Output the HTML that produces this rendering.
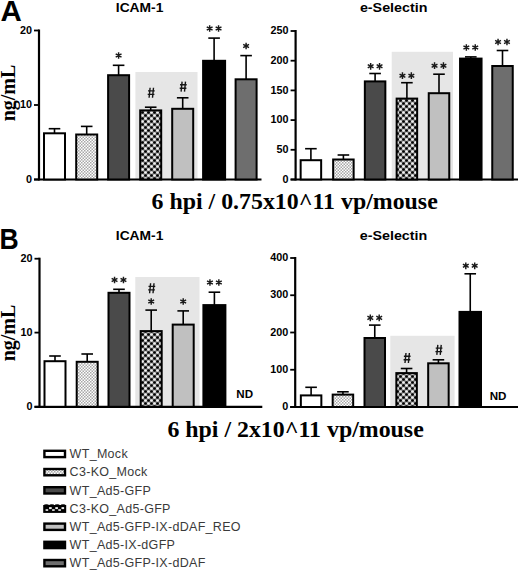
<!DOCTYPE html>
<html><head><meta charset="utf-8"><style>
html,body{margin:0;padding:0;background:#fff;}
body{width:520px;height:572px;overflow:hidden;}
svg{display:block;}
.tk{font-family:"Liberation Sans",sans-serif;font-weight:bold;font-size:10.8px;fill:#000;}
.ti{font-family:"Liberation Sans",sans-serif;font-weight:bold;font-size:13px;fill:#000;}
.sp{stroke:#1a1a1a;stroke-width:1.45;fill:none;}
.hp{stroke:#151515;stroke-width:1.4;fill:none;}
.nd{font-family:"Liberation Sans",sans-serif;font-weight:bold;font-size:11.6px;fill:#000;}
.pl{font-family:"Liberation Sans",sans-serif;font-weight:bold;font-size:29.5px;fill:#000;}
.cap{font-family:"Liberation Serif",serif;font-weight:bold;font-size:23.85px;fill:#000;}
.yl{font-family:"Liberation Serif",serif;font-weight:bold;font-size:20px;fill:#000;}
.lg{font-family:"Liberation Sans",sans-serif;font-size:12.5px;fill:#3a3a3a;letter-spacing:0.3px;}
</style></head><body>
<svg width="520" height="572" viewBox="0 0 520 572">
<defs>
<pattern id="pdots" width="3" height="3" patternUnits="userSpaceOnUse">
<rect width="3" height="3" fill="#fff"/><rect x="0" y="0" width="1.5" height="1.5" fill="#a8a8a8"/><rect x="1.5" y="1.5" width="1.5" height="1.5" fill="#a8a8a8"/>
</pattern>
<pattern id="pcheck" width="6" height="6" patternUnits="userSpaceOnUse">
<rect width="6" height="6" fill="#808080"/><circle cx="1.5" cy="1.5" r="1.35" fill="#000"/><circle cx="4.5" cy="4.5" r="1.35" fill="#000"/><circle cx="4.5" cy="1.5" r="1.35" fill="#f2f2f2"/><circle cx="1.5" cy="4.5" r="1.35" fill="#f2f2f2"/>
</pattern>
</defs>
<rect width="520" height="572" fill="#fff"/>

<text x="0.6" y="21.3" class="pl">A</text>
<text transform="translate(-0.4,249) scale(0.9,1)" class="pl">B</text>
<rect x="135.4" y="72" width="62.099999999999994" height="107.5" fill="#e6e6e6"/>
<line x1="39" y1="29.5" x2="39" y2="180.5" stroke="#000" stroke-width="2.2"/>
<line x1="34" y1="179.5" x2="261.5" y2="179.5" stroke="#000" stroke-width="2.2"/>
<line x1="34" y1="30.5" x2="39" y2="30.5" stroke="#000" stroke-width="1.8"/>
<text x="32" y="33.7" class="tk" text-anchor="end">20</text>
<line x1="34" y1="105" x2="39" y2="105" stroke="#000" stroke-width="1.8"/>
<text x="32" y="108.2" class="tk" text-anchor="end">10</text>
<line x1="34" y1="179.5" x2="39" y2="179.5" stroke="#000" stroke-width="1.8"/>
<text x="32" y="182.7" class="tk" text-anchor="end">0</text>
<line x1="54.50" y1="133.30" x2="54.50" y2="128.70" stroke="#000" stroke-width="1.6"/><line x1="48.70" y1="128.70" x2="60.30" y2="128.70" stroke="#000" stroke-width="1.6"/>
<rect x="44.00" y="133.30" width="21.00" height="46.20" fill="#fff" stroke="#000" stroke-width="2"/>
<line x1="86.70" y1="134.50" x2="86.70" y2="126.40" stroke="#000" stroke-width="1.6"/><line x1="80.90" y1="126.40" x2="92.50" y2="126.40" stroke="#000" stroke-width="1.6"/>
<rect x="76.20" y="134.50" width="21.00" height="45.00" fill="url(#pdots)"/><rect x="76.20" y="134.50" width="21.00" height="45.00" fill="none" stroke="#000" stroke-width="2"/>
<line x1="118.60" y1="75.20" x2="118.60" y2="65.30" stroke="#000" stroke-width="1.6"/><line x1="112.80" y1="65.30" x2="124.40" y2="65.30" stroke="#000" stroke-width="1.6"/>
<rect x="108.10" y="75.20" width="21.00" height="104.30" fill="#4a4a4a" stroke="#000" stroke-width="2"/>
<path d="M118.60,52.15V58.85M115.70,53.83L121.50,57.17M115.70,57.17L121.50,53.83" class="sp"/>
<line x1="150.70" y1="110.40" x2="150.70" y2="107.20" stroke="#000" stroke-width="1.6"/><line x1="144.90" y1="107.20" x2="156.50" y2="107.20" stroke="#000" stroke-width="1.6"/>
<rect x="140.20" y="110.40" width="21.00" height="69.10" fill="url(#pcheck)"/><rect x="140.20" y="110.40" width="21.00" height="69.10" fill="none" stroke="#000" stroke-width="2"/>
<path d="M150.10,87.70L149.10,97.70M153.50,87.70L152.50,97.70M148.00,90.90H154.70M147.70,94.40H154.40" class="hp"/>
<line x1="182.70" y1="108.80" x2="182.70" y2="97.80" stroke="#000" stroke-width="1.6"/><line x1="176.90" y1="97.80" x2="188.50" y2="97.80" stroke="#000" stroke-width="1.6"/>
<rect x="172.20" y="108.80" width="21.00" height="70.70" fill="#c0c0c0" stroke="#000" stroke-width="2"/>
<path d="M182.10,81.60L181.10,91.60M185.50,81.60L184.50,91.60M180.00,84.80H186.70M179.70,88.30H186.40" class="hp"/>
<line x1="214.10" y1="60.80" x2="214.10" y2="38.10" stroke="#000" stroke-width="1.6"/><line x1="208.30" y1="38.10" x2="219.90" y2="38.10" stroke="#000" stroke-width="1.6"/>
<rect x="203.10" y="60.80" width="22.00" height="118.70" fill="#000" stroke="#000" stroke-width="2"/>
<path d="M209.65,25.15V31.85M206.75,26.82L212.55,30.18M206.75,30.18L212.55,26.82" class="sp"/><path d="M218.55,25.15V31.85M215.65,26.82L221.45,30.18M215.65,30.18L221.45,26.82" class="sp"/>
<line x1="246.10" y1="79.30" x2="246.10" y2="55.60" stroke="#000" stroke-width="1.6"/><line x1="240.30" y1="55.60" x2="251.90" y2="55.60" stroke="#000" stroke-width="1.6"/>
<rect x="235.60" y="79.30" width="21.00" height="100.20" fill="#6e6e6e" stroke="#000" stroke-width="2"/>
<path d="M246.10,42.65V49.35M243.20,44.33L249.00,47.67M243.20,47.67L249.00,44.33" class="sp"/>
<text x="139.6" y="12.3" class="ti" text-anchor="middle" textLength="47.6" lengthAdjust="spacingAndGlyphs">ICAM-1</text>
<rect x="391.7" y="51.8" width="61.30000000000001" height="127.7" fill="#e6e6e6"/>
<line x1="295.6" y1="30" x2="295.6" y2="180.5" stroke="#000" stroke-width="2.2"/>
<line x1="290.6" y1="179.5" x2="518" y2="179.5" stroke="#000" stroke-width="2.2"/>
<line x1="290.6" y1="31.0" x2="295.6" y2="31.0" stroke="#000" stroke-width="1.8"/>
<text x="288.6" y="34.2" class="tk" text-anchor="end">250</text>
<line x1="290.6" y1="60.7" x2="295.6" y2="60.7" stroke="#000" stroke-width="1.8"/>
<text x="288.6" y="63.900000000000006" class="tk" text-anchor="end">200</text>
<line x1="290.6" y1="90.4" x2="295.6" y2="90.4" stroke="#000" stroke-width="1.8"/>
<text x="288.6" y="93.60000000000001" class="tk" text-anchor="end">150</text>
<line x1="290.6" y1="120.1" x2="295.6" y2="120.1" stroke="#000" stroke-width="1.8"/>
<text x="288.6" y="123.3" class="tk" text-anchor="end">100</text>
<line x1="290.6" y1="149.8" x2="295.6" y2="149.8" stroke="#000" stroke-width="1.8"/>
<text x="288.6" y="153.0" class="tk" text-anchor="end">50</text>
<line x1="290.6" y1="179.5" x2="295.6" y2="179.5" stroke="#000" stroke-width="1.8"/>
<text x="288.6" y="182.7" class="tk" text-anchor="end">0</text>
<line x1="310.90" y1="160.20" x2="310.90" y2="148.70" stroke="#000" stroke-width="1.6"/><line x1="305.10" y1="148.70" x2="316.70" y2="148.70" stroke="#000" stroke-width="1.6"/>
<rect x="300.65" y="160.20" width="20.50" height="19.30" fill="#fff" stroke="#000" stroke-width="2"/>
<line x1="343.40" y1="159.50" x2="343.40" y2="155.00" stroke="#000" stroke-width="1.6"/><line x1="337.60" y1="155.00" x2="349.20" y2="155.00" stroke="#000" stroke-width="1.6"/>
<rect x="333.15" y="159.50" width="20.50" height="20.00" fill="url(#pdots)"/><rect x="333.15" y="159.50" width="20.50" height="20.00" fill="none" stroke="#000" stroke-width="2"/>
<line x1="375.10" y1="81.40" x2="375.10" y2="73.50" stroke="#000" stroke-width="1.6"/><line x1="369.30" y1="73.50" x2="380.90" y2="73.50" stroke="#000" stroke-width="1.6"/>
<rect x="364.85" y="81.40" width="20.50" height="98.10" fill="#4a4a4a" stroke="#000" stroke-width="2"/>
<path d="M370.65,62.95V69.65M367.75,64.62L373.55,67.97M367.75,67.97L373.55,64.62" class="sp"/><path d="M379.55,62.95V69.65M376.65,64.62L382.45,67.97M376.65,67.97L382.45,64.62" class="sp"/>
<line x1="406.90" y1="98.60" x2="406.90" y2="82.70" stroke="#000" stroke-width="1.6"/><line x1="401.10" y1="82.70" x2="412.70" y2="82.70" stroke="#000" stroke-width="1.6"/>
<rect x="396.65" y="98.60" width="20.50" height="80.90" fill="url(#pcheck)"/><rect x="396.65" y="98.60" width="20.50" height="80.90" fill="none" stroke="#000" stroke-width="2"/>
<path d="M402.45,72.35V79.05M399.55,74.03L405.35,77.38M399.55,77.38L405.35,74.03" class="sp"/><path d="M411.35,72.35V79.05M408.45,74.03L414.25,77.38M408.45,77.38L414.25,74.03" class="sp"/>
<line x1="439.00" y1="93.20" x2="439.00" y2="74.20" stroke="#000" stroke-width="1.6"/><line x1="433.20" y1="74.20" x2="444.80" y2="74.20" stroke="#000" stroke-width="1.6"/>
<rect x="428.75" y="93.20" width="20.50" height="86.30" fill="#c0c0c0" stroke="#000" stroke-width="2"/>
<path d="M434.55,62.35V69.05M431.65,64.03L437.45,67.38M431.65,67.38L437.45,64.03" class="sp"/><path d="M443.45,62.35V69.05M440.55,64.03L446.35,67.38M440.55,67.38L446.35,64.03" class="sp"/>
<line x1="470.80" y1="58.60" x2="470.80" y2="56.90" stroke="#000" stroke-width="1.6"/><line x1="465.00" y1="56.90" x2="476.60" y2="56.90" stroke="#000" stroke-width="1.6"/>
<rect x="460.05" y="58.60" width="21.50" height="120.90" fill="#000" stroke="#000" stroke-width="2"/>
<path d="M466.35,44.15V50.85M463.45,45.83L469.25,49.17M463.45,49.17L469.25,45.83" class="sp"/><path d="M475.25,44.15V50.85M472.35,45.83L478.15,49.17M472.35,49.17L478.15,45.83" class="sp"/>
<line x1="502.50" y1="66.00" x2="502.50" y2="50.50" stroke="#000" stroke-width="1.6"/><line x1="496.70" y1="50.50" x2="508.30" y2="50.50" stroke="#000" stroke-width="1.6"/>
<rect x="492.25" y="66.00" width="20.50" height="113.50" fill="#6e6e6e" stroke="#000" stroke-width="2"/>
<path d="M498.05,38.65V45.35M495.15,40.33L500.95,43.67M495.15,43.67L500.95,40.33" class="sp"/><path d="M506.95,38.65V45.35M504.05,40.33L509.85,43.67M504.05,43.67L509.85,40.33" class="sp"/>
<text x="393.7" y="12.3" class="ti" text-anchor="middle" textLength="67.6" lengthAdjust="spacingAndGlyphs">e-Selectin</text>
<rect x="135.3" y="277" width="64.19999999999999" height="129.8" fill="#e6e6e6"/>
<line x1="39.5" y1="257.7" x2="39.5" y2="407.8" stroke="#000" stroke-width="2.2"/>
<line x1="34.5" y1="406.8" x2="262.3" y2="406.8" stroke="#000" stroke-width="2.2"/>
<line x1="34.5" y1="258.7" x2="39.5" y2="258.7" stroke="#000" stroke-width="1.8"/>
<text x="32.5" y="261.9" class="tk" text-anchor="end">20</text>
<line x1="34.5" y1="332.6" x2="39.5" y2="332.6" stroke="#000" stroke-width="1.8"/>
<text x="32.5" y="335.8" class="tk" text-anchor="end">10</text>
<line x1="34.5" y1="406.8" x2="39.5" y2="406.8" stroke="#000" stroke-width="1.8"/>
<text x="32.5" y="410.0" class="tk" text-anchor="end">0</text>
<line x1="55.00" y1="361.20" x2="55.00" y2="356.00" stroke="#000" stroke-width="1.6"/><line x1="49.20" y1="356.00" x2="60.80" y2="356.00" stroke="#000" stroke-width="1.6"/>
<rect x="44.50" y="361.20" width="21.00" height="45.60" fill="#fff" stroke="#000" stroke-width="2"/>
<line x1="87.20" y1="361.80" x2="87.20" y2="354.00" stroke="#000" stroke-width="1.6"/><line x1="81.40" y1="354.00" x2="93.00" y2="354.00" stroke="#000" stroke-width="1.6"/>
<rect x="76.70" y="361.80" width="21.00" height="45.00" fill="url(#pdots)"/><rect x="76.70" y="361.80" width="21.00" height="45.00" fill="none" stroke="#000" stroke-width="2"/>
<line x1="119.00" y1="292.80" x2="119.00" y2="289.30" stroke="#000" stroke-width="1.6"/><line x1="113.20" y1="289.30" x2="124.80" y2="289.30" stroke="#000" stroke-width="1.6"/>
<rect x="108.50" y="292.80" width="21.00" height="114.00" fill="#4a4a4a" stroke="#000" stroke-width="2"/>
<path d="M114.55,276.65V283.35M111.65,278.32L117.45,281.68M111.65,281.68L117.45,278.32" class="sp"/><path d="M123.45,276.65V283.35M120.55,278.32L126.35,281.68M120.55,281.68L126.35,278.32" class="sp"/>
<line x1="151.20" y1="331.10" x2="151.20" y2="310.10" stroke="#000" stroke-width="1.6"/><line x1="145.40" y1="310.10" x2="157.00" y2="310.10" stroke="#000" stroke-width="1.6"/>
<rect x="140.70" y="331.10" width="21.00" height="75.70" fill="url(#pcheck)"/><rect x="140.70" y="331.10" width="21.00" height="75.70" fill="none" stroke="#000" stroke-width="2"/>
<path d="M151.20,298.15V304.85M148.30,299.82L154.10,303.18M148.30,303.18L154.10,299.82" class="sp"/>
<path d="M150.60,283.20L149.60,293.20M154.00,283.20L153.00,293.20M148.50,286.40H155.20M148.20,289.90H154.90" class="hp"/>
<line x1="183.20" y1="324.60" x2="183.20" y2="310.90" stroke="#000" stroke-width="1.6"/><line x1="177.40" y1="310.90" x2="189.00" y2="310.90" stroke="#000" stroke-width="1.6"/>
<rect x="172.70" y="324.60" width="21.00" height="82.20" fill="#c0c0c0" stroke="#000" stroke-width="2"/>
<path d="M183.20,298.15V304.85M180.30,299.82L186.10,303.18M180.30,303.18L186.10,299.82" class="sp"/>
<line x1="214.40" y1="305.10" x2="214.40" y2="292.20" stroke="#000" stroke-width="1.6"/><line x1="208.60" y1="292.20" x2="220.20" y2="292.20" stroke="#000" stroke-width="1.6"/>
<rect x="203.40" y="305.10" width="22.00" height="101.70" fill="#000" stroke="#000" stroke-width="2"/>
<path d="M209.95,279.15V285.85M207.05,280.82L212.85,284.18M207.05,284.18L212.85,280.82" class="sp"/><path d="M218.85,279.15V285.85M215.95,280.82L221.75,284.18M215.95,284.18L221.75,280.82" class="sp"/>
<text x="139.6" y="240.1" class="ti" text-anchor="middle" textLength="47.6" lengthAdjust="spacingAndGlyphs">ICAM-1</text>
<text x="244.7" y="398.3" class="nd" text-anchor="middle">ND</text>
<rect x="390.3" y="335.8" width="64.30000000000001" height="71.19999999999999" fill="#e6e6e6"/>
<line x1="295.2" y1="257" x2="295.2" y2="408" stroke="#000" stroke-width="2.2"/>
<line x1="290.2" y1="407" x2="518" y2="407" stroke="#000" stroke-width="2.2"/>
<line x1="290.2" y1="258.0" x2="295.2" y2="258.0" stroke="#000" stroke-width="1.8"/>
<text x="288.2" y="261.2" class="tk" text-anchor="end">400</text>
<line x1="290.2" y1="295.25" x2="295.2" y2="295.25" stroke="#000" stroke-width="1.8"/>
<text x="288.2" y="298.45" class="tk" text-anchor="end">300</text>
<line x1="290.2" y1="332.5" x2="295.2" y2="332.5" stroke="#000" stroke-width="1.8"/>
<text x="288.2" y="335.7" class="tk" text-anchor="end">200</text>
<line x1="290.2" y1="369.75" x2="295.2" y2="369.75" stroke="#000" stroke-width="1.8"/>
<text x="288.2" y="372.95" class="tk" text-anchor="end">100</text>
<line x1="290.2" y1="407.0" x2="295.2" y2="407.0" stroke="#000" stroke-width="1.8"/>
<text x="288.2" y="410.2" class="tk" text-anchor="end">0</text>
<line x1="311.10" y1="395.40" x2="311.10" y2="387.30" stroke="#000" stroke-width="1.6"/><line x1="305.30" y1="387.30" x2="316.90" y2="387.30" stroke="#000" stroke-width="1.6"/>
<rect x="300.85" y="395.40" width="20.50" height="11.60" fill="#fff" stroke="#000" stroke-width="2"/>
<line x1="342.93" y1="394.60" x2="342.93" y2="391.80" stroke="#000" stroke-width="1.6"/><line x1="337.13" y1="391.80" x2="348.73" y2="391.80" stroke="#000" stroke-width="1.6"/>
<rect x="332.68" y="394.60" width="20.50" height="12.40" fill="url(#pdots)"/><rect x="332.68" y="394.60" width="20.50" height="12.40" fill="none" stroke="#000" stroke-width="2"/>
<line x1="374.76" y1="338.00" x2="374.76" y2="325.10" stroke="#000" stroke-width="1.6"/><line x1="368.96" y1="325.10" x2="380.56" y2="325.10" stroke="#000" stroke-width="1.6"/>
<rect x="364.51" y="338.00" width="20.50" height="69.00" fill="#4a4a4a" stroke="#000" stroke-width="2"/>
<path d="M370.31,314.55V321.25M367.41,316.22L373.21,319.57M367.41,319.57L373.21,316.22" class="sp"/><path d="M379.21,314.55V321.25M376.31,316.22L382.11,319.57M376.31,319.57L382.11,316.22" class="sp"/>
<line x1="406.59" y1="373.10" x2="406.59" y2="368.50" stroke="#000" stroke-width="1.6"/><line x1="400.79" y1="368.50" x2="412.39" y2="368.50" stroke="#000" stroke-width="1.6"/>
<rect x="396.34" y="373.10" width="20.50" height="33.90" fill="url(#pcheck)"/><rect x="396.34" y="373.10" width="20.50" height="33.90" fill="none" stroke="#000" stroke-width="2"/>
<path d="M405.99,353.00L404.99,363.00M409.39,353.00L408.39,363.00M403.89,356.20H410.59M403.59,359.70H410.29" class="hp"/>
<line x1="438.42" y1="363.30" x2="438.42" y2="359.80" stroke="#000" stroke-width="1.6"/><line x1="432.62" y1="359.80" x2="444.22" y2="359.80" stroke="#000" stroke-width="1.6"/>
<rect x="428.17" y="363.30" width="20.50" height="43.70" fill="#c0c0c0" stroke="#000" stroke-width="2"/>
<path d="M437.82,344.90L436.82,354.90M441.22,344.90L440.22,354.90M435.72,348.10H442.42M435.42,351.60H442.12" class="hp"/>
<line x1="470.25" y1="311.90" x2="470.25" y2="273.80" stroke="#000" stroke-width="1.6"/><line x1="464.45" y1="273.80" x2="476.05" y2="273.80" stroke="#000" stroke-width="1.6"/>
<rect x="459.50" y="311.90" width="21.50" height="95.10" fill="#000" stroke="#000" stroke-width="2"/>
<path d="M465.80,262.45V269.15M462.90,264.12L468.70,267.48M462.90,267.48L468.70,264.12" class="sp"/><path d="M474.70,262.45V269.15M471.80,264.12L477.60,267.48M471.80,267.48L477.60,264.12" class="sp"/>
<text x="393.5" y="240.1" class="ti" text-anchor="middle" textLength="67.6" lengthAdjust="spacingAndGlyphs">e-Selectin</text>
<text x="498" y="399.7" class="nd" text-anchor="middle">ND</text>
<text transform="translate(14.8,93) rotate(-90)" class="yl" text-anchor="middle">ng/mL</text>
<text transform="translate(14.8,333) rotate(-90)" class="yl" text-anchor="middle">ng/mL</text>
<text x="151.6" y="209.3" class="cap">6 hpi / 0.75x10^11 vp/mouse</text>
<text x="167.4" y="436.8" class="cap">6 hpi / 2x10^11 vp/mouse</text>
<rect x="44.400000000000006" y="450.80" width="20.6" height="6.30" fill="#fff" stroke="#000" stroke-width="2.4"/>
<text x="69.6" y="458.2" class="lg">WT_Mock</text>
<rect x="44.400000000000006" y="469.00" width="20.6" height="6.30" fill="url(#pdots)" stroke="#000" stroke-width="2.4"/>
<text x="69.6" y="476.4" class="lg">C3-KO_Mock</text>
<rect x="44.400000000000006" y="487.20" width="20.6" height="6.30" fill="#4a4a4a" stroke="#000" stroke-width="2.4"/>
<text x="69.6" y="494.6" class="lg">WT_Ad5-GFP</text>
<rect x="43.2" y="505.00" width="23" height="7.90" fill="#000"/>
<ellipse cx="46.4" cy="505.40" rx="2.6" ry="1.2" fill="#000"/>
<ellipse cx="51.8" cy="505.40" rx="2.6" ry="1.2" fill="#000"/>
<ellipse cx="57.2" cy="505.40" rx="2.6" ry="1.2" fill="#000"/>
<ellipse cx="63.1" cy="505.40" rx="2.6" ry="1.2" fill="#000"/>
<rect x="49.10" y="507.10" width="2.6" height="2" fill="#eee"/>
<rect x="55.30" y="507.10" width="2.6" height="2" fill="#eee"/>
<rect x="61.50" y="507.10" width="2.6" height="2" fill="#eee"/>
<rect x="45.60" y="509.20" width="2.6" height="1.7" fill="#e4e4e4"/>
<rect x="52.10" y="509.20" width="2.6" height="1.7" fill="#e4e4e4"/>
<rect x="58.30" y="509.20" width="2.6" height="1.7" fill="#e4e4e4"/>
<text x="69.6" y="512.8" class="lg">C3-KO_Ad5-GFP</text>
<rect x="44.400000000000006" y="523.60" width="20.6" height="6.30" fill="#c0c0c0" stroke="#000" stroke-width="2.4"/>
<text x="69.6" y="531.0" class="lg">WT_Ad5-GFP-IX-dDAF_REO</text>
<rect x="44.400000000000006" y="541.80" width="20.6" height="6.30" fill="#000" stroke="#000" stroke-width="2.4"/>
<text x="69.6" y="549.2" class="lg">WT_Ad5-IX-dGFP</text>
<rect x="44.400000000000006" y="560.00" width="20.6" height="6.30" fill="#6e6e6e" stroke="#000" stroke-width="2.4"/>
<text x="69.6" y="567.4" class="lg">WT_Ad5-GFP-IX-dDAF</text>
</svg>
</body></html>
